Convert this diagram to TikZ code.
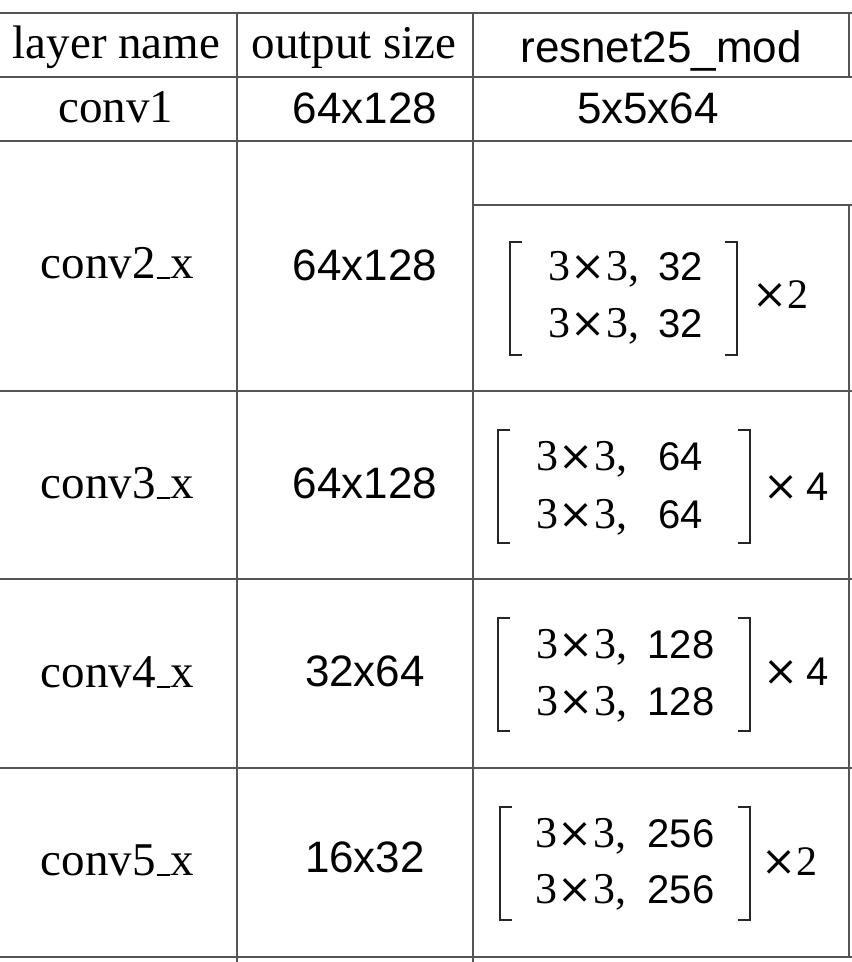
\documentclass[tikz,border=0pt]{standalone}
\usepackage{fontspec}
\setmainfont{Liberation Serif}
\setsansfont{Liberation Sans}
\newfontfamily\timessign{DejaVu Serif}
\usepackage{xcolor}
\usepackage{tikz}
\definecolor{rulegray}{RGB}{85, 85, 85}
\newcommand{\lowbar}{\kern1pt\rule[-0.5pt]{13pt}{2pt}\kern1pt}
\newcommand{\tms}{{\timessign\fontsize{42}{46}\selectfont ×}}
\newcommand{\kxk}{3\kern0.5pt\tms\kern0.5pt3,}

\begin{document}
\begin{tikzpicture}[
    x=1pt, y=-1pt,
    tabrule/.style={draw=rulegray, line width=2pt},
    brack/.style={draw=black!85, line width=2pt},
    namecell/.style={inner sep=0pt, anchor=base, font=\fontsize{47}{50}\selectfont\rmfamily},
    numcell/.style={inner sep=0pt, anchor=base, font=\fontsize{44}{48}\selectfont\sffamily},
    kernel/.style={inner sep=0pt, anchor=base west, font=\fontsize{44}{48}\selectfont\rmfamily},
    chan/.style={inner sep=0pt, anchor=base, font=\fontsize{40}{44}\selectfont\sffamily}
]
    \useasboundingbox (0, 0) rectangle (852, 962);

    % Table rules
    \draw[tabrule] (0, 13) -- (852, 13);
    \draw[tabrule] (0, 77) -- (852, 77);
    \draw[tabrule] (0, 141) -- (852, 141);
    \draw[tabrule] (473, 205) -- (852, 205);
    \draw[tabrule] (0, 391) -- (852, 391);
    \draw[tabrule] (0, 579) -- (852, 579);
    \draw[tabrule] (0, 768) -- (852, 768);
    \draw[tabrule] (0, 957) -- (852, 957);
    \draw[tabrule] (237, 13) -- (237, 962);
    \draw[tabrule] (473, 13) -- (473, 962);
    \draw[tabrule] (849, 13) -- (849, 77);
    \draw[tabrule] (849, 205) -- (849, 957);

    % Header row
    \node[namecell] (hname) at (116.5, 58) {layer name};
    \node[namecell] (hsize) at (354, 58) {output size};
    \node[numcell] (hnet) at (661, 62) {resnet25\_mod};

    % conv1
    \node[namecell] (name1) at (116, 122) {conv1};
    \node[numcell] (size1) at (365, 123) {64x128};
    \node[numcell] (net1) at (648, 123) {5x5x64};

    % conv2_x
    \node[namecell] (name2) at (117.5, 278) {conv2\lowbar x};
    \node[numcell] (size2) at (365, 280) {64x128};
    \draw[brack] (522, 242) -- (510, 242) -- (510, 355) -- (522, 355);
    \draw[brack] (725, 242) -- (737, 242) -- (737, 355) -- (725, 355);
    \node[kernel] (k2a) at (548, 280) {\kxk};
    \node[kernel] (k2b) at (548, 337) {\kxk};
    \node[chan] (c2a) at (680.5, 280) {32};
    \node[chan] (c2b) at (680.5, 337) {32};
    \node[kernel] (r2) at (752, 308) {\tms{\fontsize{42}{46}\selectfont 2}};

    % conv3_x
    \node[namecell] (name3) at (117.5, 498) {conv3\lowbar x};
    \node[numcell] (size3) at (365, 498) {64x128};
    \draw[brack] (510, 430) -- (498, 430) -- (498, 543) -- (510, 543);
    \draw[brack] (738, 430) -- (750, 430) -- (750, 543) -- (738, 543);
    \node[kernel] (k3a) at (536, 470) {\kxk};
    \node[kernel] (k3b) at (536, 528) {\kxk};
    \node[chan] (c3a) at (680.5, 470) {64};
    \node[chan] (c3b) at (680.5, 528) {64};
    \node[kernel] (r3) at (763, 500) {\tms\kern8pt{\fontsize{40}{44}\selectfont\sffamily 4}};

    % conv4_x
    \node[namecell] (name4) at (117.5, 687) {conv4\lowbar x};
    \node[numcell] (size4) at (365, 686) {32x64};
    \draw[brack] (510, 618) -- (498, 618) -- (498, 731) -- (510, 731);
    \draw[brack] (738, 618) -- (750, 618) -- (750, 731) -- (738, 731);
    \node[kernel] (k4a) at (536, 658) {\kxk};
    \node[kernel] (k4b) at (536, 715) {\kxk};
    \node[chan] (c4a) at (681, 658) {128};
    \node[chan] (c4b) at (681, 715) {128};
    \node[kernel] (r4) at (763, 685) {\tms\kern8pt{\fontsize{40}{44}\selectfont\sffamily 4}};

    % conv5_x
    \node[namecell] (name5) at (117.5, 875) {conv5\lowbar x};
    \node[numcell] (size5) at (365, 872) {16x32};
    \draw[brack] (512, 807) -- (500, 807) -- (500, 920) -- (512, 920);
    \draw[brack] (738, 807) -- (750, 807) -- (750, 920) -- (738, 920);
    \node[kernel] (k5a) at (535, 847) {\kxk};
    \node[kernel] (k5b) at (535, 903) {\kxk};
    \node[chan] (c5a) at (681, 847) {256};
    \node[chan] (c5b) at (681, 903) {256};
    \node[kernel] (r5) at (761, 875) {\tms{\fontsize{42}{46}\selectfont 2}};

\end{tikzpicture}
\end{document}
